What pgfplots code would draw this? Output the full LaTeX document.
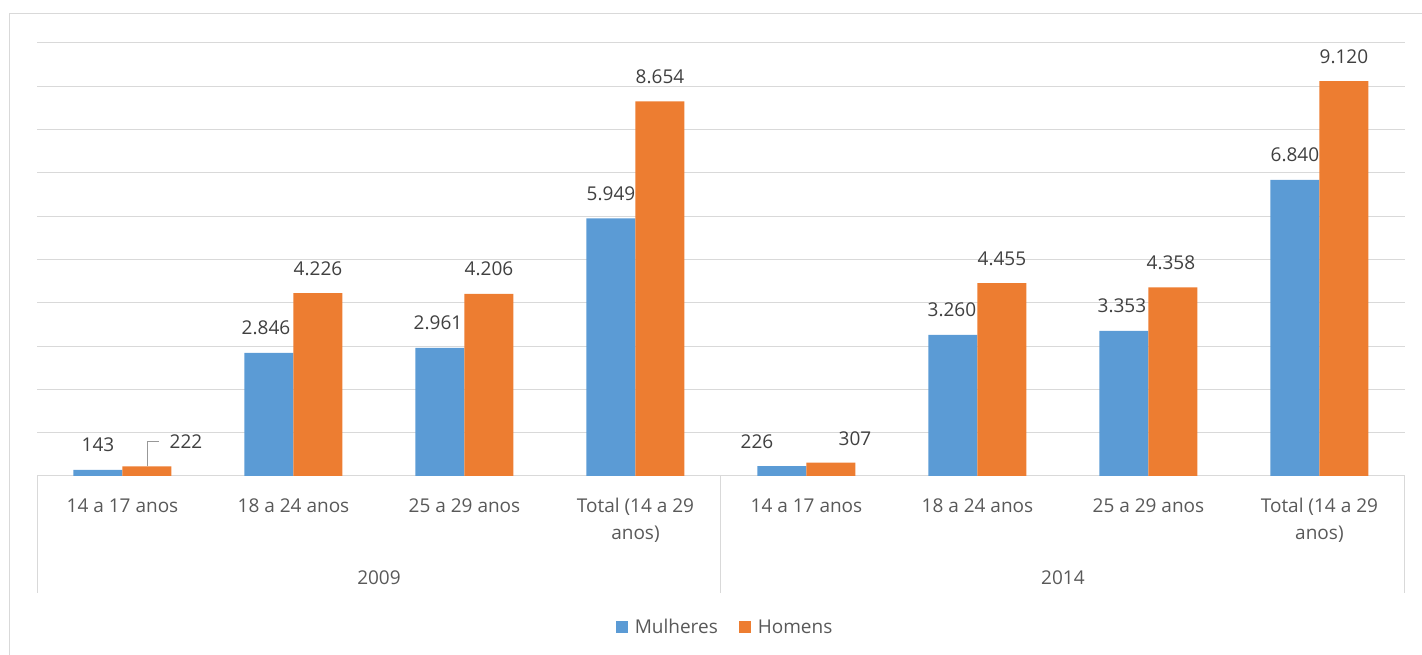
\documentclass[border=0pt]{standalone}
\usepackage{pgfplots}
\pgfplotsset{compat=1.18}
\usepackage{pgfplotstable}
\usepackage{fontspec}
\setmainfont{Open Sans}
\definecolor{cblue}{HTML}{5B9BD5}
\definecolor{corange}{HTML}{ED7D31}
\definecolor{gridc}{HTML}{D9D9D9}
\definecolor{txt}{HTML}{595959}
\definecolor{lbl}{HTML}{404040}
\newcommand\tl[1]{\begin{tabular}[t]{@{}c@{}}#1\end{tabular}}
\pgfplotstableread{
x y dx dy
0 143 0 18
1 2846 -3 18
2 2961 -2 18
3 5949 0 18
4 226 -25 18
5 3260 -1 18
6 3353 -2 18
7 6840 0 18
}\mulheres
\pgfplotstableread{
x y dx dy
0 222 39 18
1 4226 0 18
2 4206 0 18
3 8654 0 18
4 307 24 17.5
5 4455 0 18
6 4358 -2 18
7 9120 0 18
}\homens
\begin{document}
\begin{tikzpicture}[x=1pt,y=1pt]
\useasboundingbox (0,0) rectangle (1422,655);
\draw[gridc, line width=1pt] (9.5,0) -- (9.5,641.5) -- (1422,641.5);
\begin{axis}[
  at={(37pt,179pt)}, anchor=south west,
  scale only axis, width=1368pt, height=433pt,
  ymin=0, ymax=10000, xmin=-0.5, xmax=7.5,
  clip=false,
  ybar=0pt, bar width=49pt,
  axis line style={draw=none},
  major tick length=0pt,
  scaled y ticks=false,
  ymajorgrids, grid style={gridc, line width=1pt},
  ytick={0,1000,...,10000}, yticklabels={},
  xtick={0,...,7},
  xticklabels={\tl{14 a 17 anos}, \tl{18 a 24 anos}, \tl{25 a 29 anos}, \tl{Total (14 a 29\\anos)},
               \tl{14 a 17 anos}, \tl{18 a 24 anos}, \tl{25 a 29 anos}, \tl{Total (14 a 29\\anos)}},
  xticklabel style={font=\fontsize{19}{27}\selectfont, text=txt, anchor=base, yshift=-37pt},
  /pgf/number format/1000 sep={.},
  /pgf/number format/assume math mode=true,
  point meta=y,
  nodes near coords={\pgfmathprintnumber{\pgfplotspointmeta}},
  visualization depends on={\thisrow{dx}\as\dx},
  visualization depends on={\thisrow{dy}\as\dy},
  every node near coord/.append style={font=\fontsize{19}{23}\selectfont, text=lbl, anchor=base, xshift=\dx pt, yshift=\dy pt},
  legend columns=2,
  legend style={at={(0.503,-0.3487)}, anchor=center, draw=none, fill=none,
    font=\fontsize{19}{23}\selectfont, text=txt,
    /tikz/every odd column/.append style={column sep=5pt},
    /tikz/every even column/.append style={column sep=19pt}},
  legend image code/.code={\fill[#1, draw=none] (0pt,-6pt) rectangle (12pt,6pt);},
]
\addplot[fill=cblue, draw=none] table[x=x, y=y] {\mulheres};
\addlegendentry{Mulheres}
\addplot[fill=corange, draw=none] table[x=x, y=y] {\homens};
\addlegendentry{Homens}
\draw[gridc!70!black, line width=0.8pt] ([xshift=24.5pt]axis cs:0,222) -- ++(0pt,25pt) -- ++(12pt,0pt);
\draw[gridc, line width=1pt] (axis cs:-0.5,0) -- ++(0pt,-117pt);
\draw[gridc, line width=1pt] (axis cs:3.5,0) -- ++(0pt,-117pt);
\draw[gridc, line width=1pt] (axis cs:7.5,0) -- ++(0pt,-117pt);
\node[font=\fontsize{19}{23}\selectfont, text=txt, anchor=base, yshift=-109pt] at (axis cs:1.5,0) {2009};
\node[font=\fontsize{19}{23}\selectfont, text=txt, anchor=base, yshift=-109pt] at (axis cs:5.5,0) {2014};
\end{axis}
\end{tikzpicture}
\end{document}
